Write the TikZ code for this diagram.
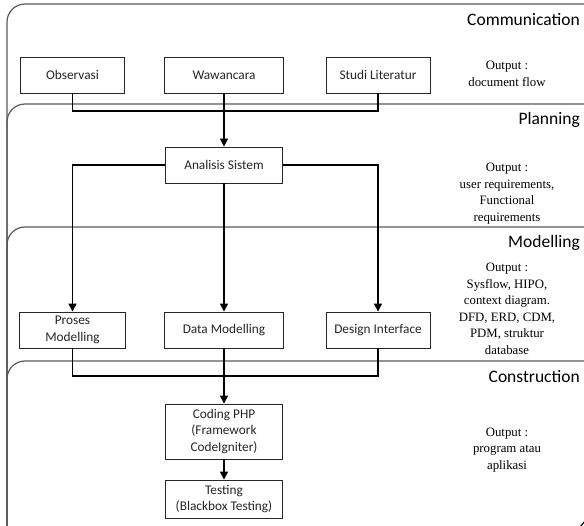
\documentclass[tikz,border=0pt]{standalone}
\usepackage{fontspec}
\newfontfamily\calib{Carlito}
\newfontfamily\tms{Liberation Serif}
\usetikzlibrary{arrows.meta}
\begin{document}
\begin{tikzpicture}[x=1pt,y=-1pt,
  box/.style={draw=black!85, line width=0.9pt, fill=white, font=\calib\fontsize{13.3}{16.5}\selectfont, text=black!85, align=center, inner sep=0pt, minimum height=36pt},
  band/.style={draw=black!65, line width=1.2pt, rounded corners=18pt},
  conn/.style={line width=1.3pt},
  arr/.style={conn, -{Triangle[length=8pt,width=8pt]}},
  lab/.style={font=\calib\fontsize{17.5}{20}\selectfont, anchor=east, inner sep=0pt},
  outtxt/.style={font=\tms\fontsize{12.8}{16.5}\selectfont, align=center, inner sep=0pt}]
\useasboundingbox (0,0) rectangle (584,526);
\clip (0,0) rectangle (584,526);
% bands
\draw[band] (7,540) -- (7,4) -- (620,4);
\draw[band] (7,540) -- (7,104) -- (620,104);
\draw[band] (7,540) -- (7,227) -- (620,227);
\draw[band] (7,540) -- (7,361) -- (620,361);
\draw[line width=1.2pt] (580,527) -- (585,521);
% labels
\node[lab] (lcom) at (580,20) {Communication};
\node[lab] (lpla) at (580,120) {Planning};
\node[lab] (lmod) at (580,243) {Modelling};
\node[lab] (lcon) at (580,377) {Construction};
% outputs
\node[outtxt] (o1) at (507,74) {Output :\\document flow};
\node[outtxt] (o2) at (507,193.5) {Output :\\user requirements,\\Functional\\requirements};
\node[outtxt] (o3) at (507,309) {Output :\\Sysflow, HIPO,\\context diagram.\\DFD, ERD, CDM,\\PDM, struktur\\database};
\node[outtxt] (o4) at (507,450) {Output :\\program atau\\aplikasi};
% boxes
\node[box, minimum width=104pt] (obs) at (72.5,75) {Observasi};
\node[box, minimum width=119pt] (waw) at (224,75) {Wawancara};
\node[box, minimum width=104pt] (stu) at (378,75) {Studi Literatur};
\node[box, minimum width=117pt] (ana) at (224,165) {Analisis Sistem};
\node[box, minimum width=106pt] (pro) at (72.5,330) {Proses\\Modelling};
\node[box, minimum width=119pt] (dat) at (224,330) {Data Modelling};
\node[box, minimum width=104pt] (des) at (378,330) {Design Interface};
\node[box, minimum width=117pt, minimum height=55pt] (cod) at (224,431.5) {Coding PHP\\(Framework\\CodeIgniter)};
\node[box, minimum width=117pt, minimum height=38pt] (tes) at (224,499) {Testing\\(Blackbox Testing)};
% connectors
\coordinate (j1) at (224,111);
\coordinate (j2) at (224,376);
\draw[conn] (obs.south) |- (j1) -| (stu.south);
\draw[arr] (waw.south) -- (ana.north);
\draw[arr] (ana.west) -| (pro.north);
\draw[arr] (ana.east) -| (des.north);
\draw[arr] (ana.south) -- (dat.north);
\draw[conn] (pro.south) |- (j2) -| (des.south);
\draw[arr] (dat.south) -- (cod.north);
\draw[arr] (cod.south) -- (tes.north);
\end{tikzpicture}
\end{document}
